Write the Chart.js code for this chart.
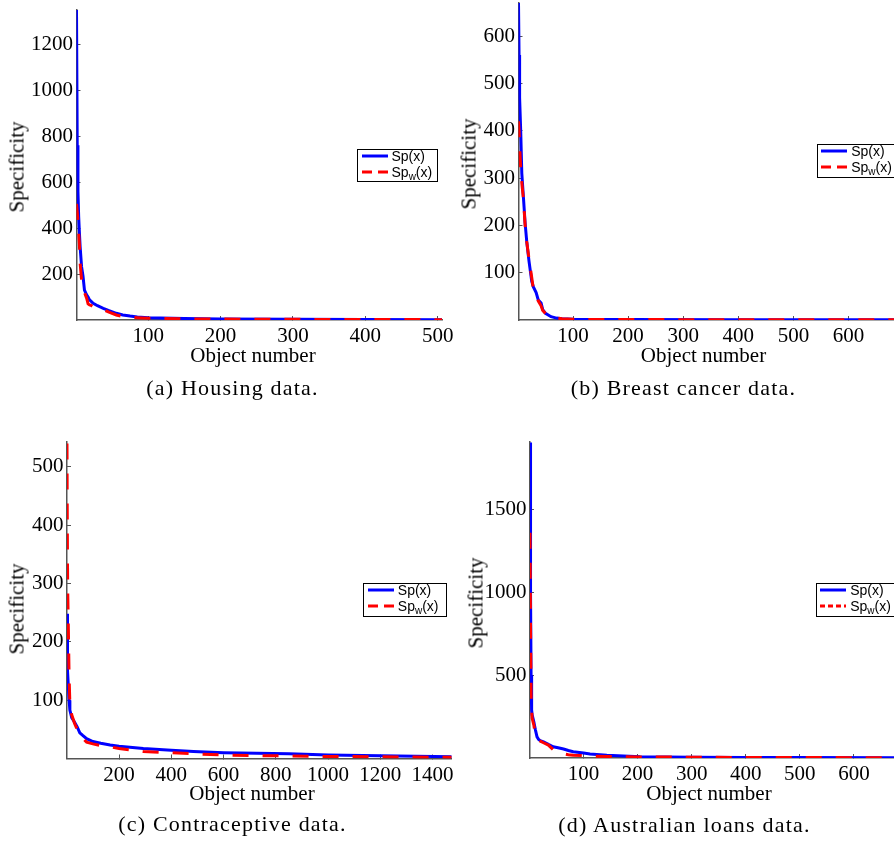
<!DOCTYPE html>
<html>
<head>
<meta charset="utf-8">
<title>Specificity of objects</title>
<script src="https://cdn.jsdelivr.net/npm/chart.js@4.4.1/dist/chart.umd.min.js"></script>
<style>
  html, body { margin: 0; padding: 0; background: #fff; }
  #page { position: relative; width: 894px; height: 845px; overflow: hidden; }
  .panel { position: absolute; }
  .ylab, .xlab, .caption { position: absolute; white-space: nowrap; line-height: 1; color: #000; }
  .ylab { font: 21px 'Liberation Serif', serif; transform: translate(-50%, -50%) rotate(-90deg); }
  .xlab { font: 21px 'Liberation Serif', serif; transform: translate(-50%, -50%); }
  .caption { font: 22px 'Liberation Serif', serif; letter-spacing: 1.2px; transform: translate(-50%, -50%); }
  .legend { position: absolute; box-sizing: border-box; border: 1.5px solid #000; background: #fff;
            font: 14px 'Liberation Sans', Arial, sans-serif; color: #000; }
  .legend .row { position: absolute; left: 3.5px; height: 16px; display: flex; align-items: center; white-space: nowrap; }
  .legend svg { display: block; margin-right: 2px; }
  .legend sub { font-size: 10px; vertical-align: -3px; line-height: 0; }
</style>
</head>
<body>
<div id="page"></div>
<script>
// (a) Housing data
const housingX      = [1, 2, 3, 4, 5, 6, 8, 10, 12, 15, 17, 19, 21, 24, 30, 38, 45, 56, 65, 75, 85, 100, 150, 200, 300, 400, 506];
const housingSp     = [1350, 760, 560, 450, 380, 319, 232, 190, 130, 109, 100, 87, 82, 73, 62, 51, 42, 29, 22, 17, 13, 10, 6, 4, 3, 2, 1.5];
const housingSpw    = [505, 470, 430, 380, 330, 247, 174, 140, 120, 95, 70, 66, 64, 58, 55, 45, 35, 22, 15, 12, 10, 8, 5, 4, 3, 2, 1.5];
const housingXTicks = [100, 200, 300, 400, 500];
const housingYTicks = [200, 400, 600, 800, 1000, 1200];

// (b) Breast cancer data
const breastX      = [1, 2, 3, 5, 7, 10, 13, 16, 20, 25, 28, 33, 37, 42, 45, 50, 60, 70, 80, 100, 150, 200, 400, 699];
const breastSp     = [670, 560, 470, 400, 310, 258, 205, 165, 125, 82, 70, 58, 42, 36, 22, 14, 7, 4, 2.5, 1.5, 1, 1, 0.5, 0.3];
const breastSpw    = [420, 400, 370, 320, 290, 255, 200, 165, 130, 90, 65, 52, 40, 30, 20, 14, 7, 4, 2.5, 1.5, 1, 1, 0.5, 0.3];
const breastXTicks = [100, 200, 300, 400, 500, 600];
const breastYTicks = [100, 200, 300, 400, 500, 600];

// (c) Contraceptive data
const contraX      = [1, 2, 3, 4, 6, 9, 12, 19, 30, 40, 50, 60, 76, 100, 130, 166, 200, 293, 400, 485, 600, 727, 850, 1000, 1200, 1473];
const contraSp     = [248, 200, 165, 150, 125, 100, 83, 70, 62, 54, 44, 40, 34, 29, 26, 23, 21, 17, 14, 12, 10, 9, 8, 6, 4.5, 3];
const contraSpw    = [540, 420, 330, 280, 230, 140, 95, 75, 60, 50, 42, 35, 28, 25, 22, 20, 17, 12, 10, 8, 6, 5, 4.5, 3.5, 3, 2];
const contraXTicks = [200, 400, 600, 800, 1000, 1200, 1400];
const contraYTicks = [100, 200, 300, 400, 500];

// (d) Australian loans data
const ausX      = [1, 2, 3, 4, 5, 8, 11, 14, 17, 20, 26, 35, 44, 55, 63, 72, 81, 100, 112, 143, 205, 300, 400, 500, 690];
const ausSp     = [1905, 1000, 500, 290, 260, 220, 170, 128, 112, 105, 98, 82, 68, 60, 54, 45, 38, 30, 24, 16, 8, 5, 3, 2.5, 2];
const ausSpw    = [1360, 800, 380, 290, 240, 200, 140, 115, 108, 102, 92, 78, 50, 32, 25, 20, 17, 14, 12, 9, 6, 5, 3, 2.5, 2];
const ausXTicks = [100, 200, 300, 400, 500, 600];
const ausYTicks = [500, 1000, 1500];

const seriesNames = ['Sp(x)', 'Sp<sub>w</sub>(x)'];
const xTitle = 'Object number';
const yTitle = 'Specificity';

// layout of the four sub-figures (page pixels)
const panels = [
  { x: housingX, sp: housingSp, spw: housingSpw, xTicks: housingXTicks, yTicks: housingYTicks,
    xMin: 1, xMax: 506, yMax: 1348, caption: '(a) Housing data.',
    box: [0, 0, 460, 360], pad: { left: 0, top: 10, right: 18, bottom: 0 }, yWidth: 76.5, xHeight: 40,
    ylab: [17, 167], xlab: [253, 354.5], cap: [232.5, 387.5], legend: [357, 149, 81, 33], legDash: '10 6' },
  { x: breastX, sp: breastSp, spw: breastSpw, xTicks: breastXTicks, yTicks: breastYTicks,
    xMin: 1, xMax: 699, yMax: 670, caption: '(b) Breast cancer data.',
    box: [450, 0, 470, 360], pad: { left: 0, top: 3, right: 17, bottom: 0 }, yWidth: 68.5, xHeight: 40,
    ylab: [468.5, 163.5], xlab: [703.5, 354.5], cap: [683.5, 387.5], legend: [816.7, 144.3, 81, 33.4], legDash: '10 6' },
  { x: contraX, sp: contraSp, spw: contraSpw, xTicks: contraXTicks, yTicks: contraYTicks,
    xMin: 1, xMax: 1473, yMax: 543, caption: '(c) Contraceptive data.',
    box: [0, 420, 470, 380], pad: { left: 0, top: 21.7, right: 18.3, bottom: 0 }, yWidth: 67, xHeight: 41.5,
    ylab: [17.2, 609], xlab: [252, 792.5], cap: [232.5, 824], legend: [363.3, 582.7, 83.4, 34], legDash: '10 6' },
  { x: ausX, sp: ausSp, spw: ausSpw, xTicks: ausXTicks, yTicks: ausYTicks,
    xMin: 1, xMax: 690, yMax: 1910, caption: '(d) Australian loans data.',
    box: [450, 420, 470, 380], pad: { left: 0, top: 21.7, right: 17.4, bottom: 0 }, yWidth: 80, xHeight: 42,
    ylab: [476, 602.5], xlab: [709, 792.5], cap: [684.5, 824.5], legend: [815.7, 582.7, 82, 34.3], legDash: '5 3' }
];

const AXIS_GREY = '#555';
const tickFont = { family: 'Liberation Serif', size: 21 };

function toPoints(xs, ys) {
  return xs.map((x, i) => ({ x: x, y: ys[i] }));
}

function axis(min, max, ticks, isX, size, padding) {
  return {
    type: 'linear',
    min: min,
    max: max,
    afterBuildTicks: s => { s.ticks = ticks.map(v => ({ value: v })); },
    afterFit: s => {
      if (isX) s.height = size; else s.width = size;
      s.paddingTop = s.paddingBottom = s.paddingLeft = s.paddingRight = 0;
    },
    grid: { drawOnChartArea: false, tickLength: -4, color: AXIS_GREY, lineWidth: 1 },
    border: { display: true, color: AXIS_GREY, width: 1.5 },
    ticks: { callback: v => String(v), autoSkip: false, maxRotation: 0, padding: padding, color: '#000', font: tickFont }
  };
}

function addText(page, cls, pos, html) {
  const el = document.createElement('div');
  el.className = cls;
  el.style.left = pos[0] + 'px';
  el.style.top = pos[1] + 'px';
  el.innerHTML = html;
  page.appendChild(el);
}

function addLegend(page, p) {
  const [l, t, w, h] = p.legend;
  const el = document.createElement('div');
  el.className = 'legend';
  el.style.cssText = `left:${l}px;top:${t}px;width:${w}px;height:${h}px`;
  el.innerHTML = `
    <div class="row" style="top:-2px"><svg width="28" height="4"><line x1="0" y1="2" x2="26" y2="2" stroke="#0000ff" stroke-width="3"/></svg><span>${seriesNames[0]}</span></div>
    <div class="row" style="top:14px"><svg width="28" height="4"><line x1="0" y1="2" x2="26" y2="2" stroke="#ff0000" stroke-width="3" stroke-dasharray="${p.legDash}"/></svg><span>${seriesNames[1]}</span></div>`;
  page.appendChild(el);
}

function drawPanel(page, p) {
  const [left, top, w, h] = p.box;
  const canvas = document.createElement('canvas');
  canvas.className = 'panel';
  canvas.width = w;
  canvas.height = h;
  canvas.style.left = left + 'px';
  canvas.style.top = top + 'px';
  page.appendChild(canvas);

  // red (weighted) goes on top of blue, as in the figure
  new Chart(canvas, {
    type: 'line',
    data: {
      datasets: [
        { label: 'Sp(x)', data: toPoints(p.x, p.sp), borderColor: '#0000ff', borderWidth: 3,
          pointRadius: 0, tension: 0, order: 2 },
        { label: 'Sp_w(x)', data: toPoints(p.x, p.spw), borderColor: '#ff0000', borderWidth: 3,
          borderDash: [16, 14], pointRadius: 0, tension: 0, order: 1 }
      ]
    },
    options: {
      responsive: false,
      animation: false,
      events: [],
      layout: { padding: p.pad },
      plugins: { legend: { display: false }, tooltip: { enabled: false } },
      scales: {
        x: axis(p.xMin, p.xMax, p.xTicks, true, p.xHeight, 8),
        y: axis(0, p.yMax, p.yTicks, false, p.yWidth, 7.4)
      }
    }
  });

  addText(page, 'ylab', p.ylab, yTitle);
  addText(page, 'xlab', p.xlab, xTitle);
  addText(page, 'caption', p.cap, p.caption);
  addLegend(page, p);
}

const page = document.getElementById('page');
panels.forEach(p => drawPanel(page, p));
</script>
</body>
</html>
